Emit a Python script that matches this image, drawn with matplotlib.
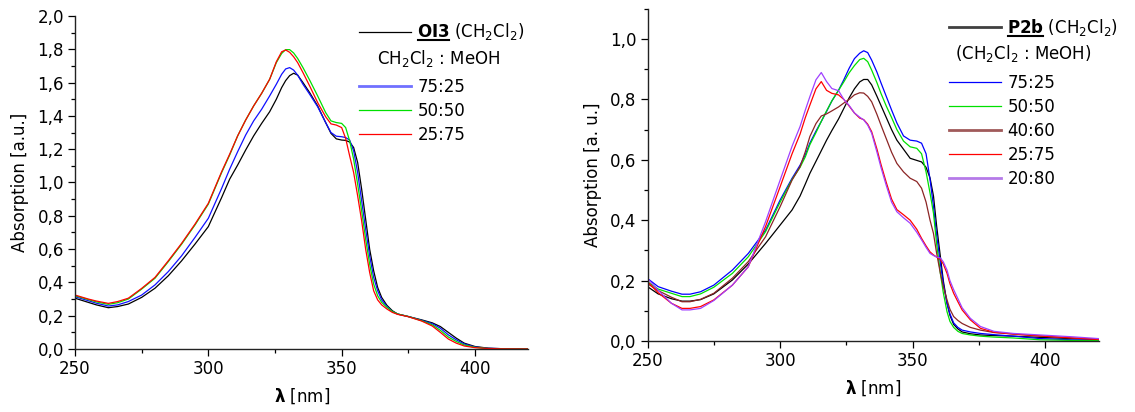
import matplotlib
matplotlib.use("Agg")
import matplotlib.pyplot as plt
from matplotlib.ticker import MultipleLocator, FuncFormatter
from matplotlib.lines import Line2D
from matplotlib.transforms import IdentityTransform

plt.rcParams['font.family'] = ['DejaVu Sans']
plt.rcParams['mathtext.fontset'] = 'dejavusans'

# ---------------- Left panel: OI3 ----------------
wl_oi3 = [250, 255, 258, 262.5, 266, 270, 275, 280, 285, 290, 295, 300, 305, 308, 311, 314, 317, 320,
          323, 325.5, 327.5, 329, 330.5, 332, 333.5, 335.5, 338, 341, 344, 346, 348, 350, 351.5, 353,
          354.5, 356, 357.5, 359, 360.5, 362, 363.5, 365, 367, 369, 371, 375, 380, 384, 387, 390,
          393, 396, 400, 405, 410, 420]
oi3_dcm = [0.305, 0.28, 0.265, 0.248, 0.255, 0.27, 0.31, 0.365, 0.44, 0.53, 0.63, 0.735, 0.91, 1.02, 1.105,
           1.195, 1.28, 1.355, 1.425, 1.50, 1.57, 1.612, 1.642, 1.656, 1.645, 1.60, 1.54, 1.46, 1.36,
           1.295, 1.262, 1.255, 1.253, 1.243, 1.21, 1.12, 0.96, 0.78, 0.60, 0.47, 0.37, 0.31, 0.262,
           0.23, 0.21, 0.195, 0.175, 0.157, 0.135, 0.10, 0.065, 0.035, 0.015, 0.005, 0.002, 0.0]
oi3_75 = [0.314, 0.29, 0.275, 0.258, 0.265, 0.285, 0.324, 0.385, 0.465, 0.56, 0.67, 0.785, 0.965, 1.08,
          1.185, 1.285, 1.37, 1.44, 1.52, 1.59, 1.65, 1.682, 1.69, 1.675, 1.645, 1.59, 1.53, 1.455,
          1.36, 1.30, 1.278, 1.275, 1.27, 1.255, 1.19, 1.06, 0.89, 0.72, 0.56, 0.43, 0.35, 0.295, 0.255,
          0.225, 0.21, 0.195, 0.172, 0.152, 0.125, 0.085, 0.055, 0.03, 0.012, 0.004, 0.002, 0.0]
oi3_50 = [0.32, 0.297, 0.283, 0.268, 0.278, 0.30, 0.36, 0.425, 0.525, 0.63, 0.745, 0.87, 1.06, 1.165,
          1.28, 1.375, 1.46, 1.535, 1.62, 1.72, 1.775, 1.798, 1.798, 1.778, 1.745, 1.69, 1.615, 1.52,
          1.42, 1.37, 1.36, 1.355, 1.33, 1.25, 1.14, 0.99, 0.83, 0.66, 0.51, 0.39, 0.32, 0.28, 0.25,
          0.225, 0.21, 0.195, 0.17, 0.145, 0.112, 0.072, 0.045, 0.024, 0.01, 0.003, 0.001, 0.0]
oi3_25 = [0.324, 0.30, 0.288, 0.274, 0.285, 0.305, 0.364, 0.43, 0.53, 0.635, 0.75, 0.875, 1.065, 1.17,
          1.28, 1.375, 1.46, 1.536, 1.62, 1.725, 1.785, 1.796, 1.782, 1.755, 1.72, 1.66, 1.58, 1.48,
          1.395, 1.352, 1.345, 1.33, 1.265, 1.16, 1.06, 0.92, 0.77, 0.60, 0.46, 0.35, 0.295, 0.265,
          0.24, 0.22, 0.208, 0.194, 0.168, 0.138, 0.10, 0.06, 0.035, 0.018, 0.008, 0.003, 0.001, 0.0]

# ---------------- Right panel: P2b ----------------
wl_p2b = [250, 254, 259, 263, 266, 270, 275, 282, 288, 294.5, 300, 304.5, 307.5, 309.5, 311.2, 313.5,
          315.5, 317.5, 319.5, 322, 324, 326, 328, 330, 331.5, 333, 334.5, 336.5, 338, 340, 342, 344,
          346.5, 349, 351.5, 353.3, 355, 356.5, 357.8, 359, 360.4, 361.5, 362.9, 364, 365.4, 367,
          368.6, 371.7, 375.5, 380.6, 388, 398, 410, 420]
p2b_dcm = [0.18, 0.156, 0.14, 0.132, 0.132, 0.137, 0.156, 0.202, 0.255, 0.323, 0.384, 0.434, 0.48, 0.52,
           0.555, 0.595, 0.63, 0.665, 0.697, 0.735, 0.77, 0.805, 0.835, 0.858, 0.866, 0.866, 0.848, 0.81,
           0.78, 0.74, 0.70, 0.665, 0.635, 0.605, 0.598, 0.593, 0.575, 0.54, 0.48, 0.38, 0.279, 0.20,
           0.125, 0.085, 0.055, 0.04, 0.03, 0.024, 0.02, 0.018, 0.016, 0.012, 0.008, 0.005]
p2b_75 = [0.207, 0.18, 0.165, 0.155, 0.155, 0.163, 0.185, 0.235, 0.29, 0.367, 0.467, 0.539, 0.582, 0.617,
          0.655, 0.695, 0.727, 0.76, 0.795, 0.83, 0.865, 0.903, 0.935, 0.953, 0.961, 0.955, 0.93, 0.89,
          0.855, 0.81, 0.765, 0.722, 0.679, 0.665, 0.662, 0.655, 0.62, 0.535, 0.445, 0.35, 0.257, 0.19,
          0.125, 0.09, 0.06, 0.045, 0.036, 0.03, 0.025, 0.021, 0.016, 0.008, 0.004, 0.003]
p2b_50 = [0.196, 0.172, 0.158, 0.147, 0.147, 0.156, 0.178, 0.224, 0.279, 0.362, 0.46, 0.535, 0.575, 0.61,
          0.65, 0.69, 0.727, 0.762, 0.795, 0.83, 0.858, 0.888, 0.912, 0.932, 0.936, 0.925, 0.897, 0.855,
          0.82, 0.778, 0.74, 0.70, 0.662, 0.643, 0.638, 0.62, 0.56, 0.49, 0.423, 0.32, 0.224, 0.16,
          0.097, 0.065, 0.045, 0.032, 0.025, 0.02, 0.016, 0.013, 0.01, 0.004, 0.002, 0.001]
p2b_40 = [0.19, 0.167, 0.145, 0.13, 0.13, 0.138, 0.158, 0.208, 0.263, 0.345, 0.445, 0.533, 0.577, 0.627,
          0.677, 0.72, 0.745, 0.752, 0.762, 0.775, 0.788, 0.80, 0.815, 0.822, 0.821, 0.81, 0.792, 0.75,
          0.715, 0.67, 0.625, 0.588, 0.56, 0.539, 0.528, 0.506, 0.46, 0.40, 0.356, 0.29, 0.224, 0.18,
          0.136, 0.105, 0.081, 0.068, 0.058, 0.045, 0.036, 0.028, 0.023, 0.016, 0.01, 0.006]
p2b_25 = [0.196, 0.16, 0.125, 0.108, 0.108, 0.114, 0.136, 0.185, 0.246, 0.379, 0.511, 0.62, 0.685, 0.74,
          0.781, 0.835, 0.859, 0.83, 0.82, 0.815, 0.80, 0.778, 0.755, 0.738, 0.733, 0.718, 0.693, 0.635,
          0.585, 0.525, 0.47, 0.435, 0.418, 0.40, 0.37, 0.34, 0.315, 0.295, 0.285, 0.278, 0.27, 0.255,
          0.224, 0.19, 0.158, 0.13, 0.103, 0.07, 0.042, 0.029, 0.023, 0.017, 0.01, 0.005]
p2b_20 = [0.207, 0.168, 0.125, 0.103, 0.103, 0.108, 0.134, 0.185, 0.246, 0.395, 0.533, 0.645, 0.71, 0.765,
          0.809, 0.865, 0.889, 0.859, 0.836, 0.829, 0.80, 0.78, 0.755, 0.741, 0.732, 0.715, 0.688, 0.625,
          0.575, 0.515, 0.46, 0.428, 0.408, 0.39, 0.36, 0.335, 0.31, 0.29, 0.283, 0.278, 0.275, 0.262,
          0.235, 0.20, 0.17, 0.14, 0.11, 0.075, 0.048, 0.032, 0.025, 0.02, 0.014, 0.008]

xticks_major = [250, 300, 350, 400]

FS = 12
W, H = 1135, 412
fig = plt.figure(figsize=(W / 100, H / 100), dpi=100)
axL = fig.add_axes([75 / W, 63 / H, 453.3 / W, 333 / H])
axR = fig.add_axes([647.5 / W, 71 / H, 451 / W, 332.2 / H])

comma = FuncFormatter(lambda v, p: f"{v:.1f}".replace('.', ','))

def style(ax, ymax):
    for s in ('top', 'right'):
        ax.spines[s].set_visible(False)
    for s in ('left', 'bottom'):
        ax.spines[s].set_linewidth(1.0)
        ax.spines[s].set_color('#222222')
    ax.set_xlim(250, 420)
    ax.set_ylim(0, ymax)
    ax.set_xticks(xticks_major)
    ax.xaxis.set_minor_locator(MultipleLocator(25))
    ax.yaxis.set_major_locator(MultipleLocator(0.2))
    ax.yaxis.set_minor_locator(MultipleLocator(0.1))
    ax.yaxis.set_major_formatter(comma)
    ax.tick_params(which='major', direction='out', length=5, width=0.9, labelsize=FS, pad=3)
    ax.tick_params(which='minor', direction='out', length=3, width=0.9)
    ax.set_xlabel(r"$\mathbf{\lambda}$ [nm]", fontsize=FS, labelpad=6)

lw = 0.9
# left
l0, = axL.plot(wl_oi3, oi3_dcm, color='#000000', lw=lw)
l1, = axL.plot(wl_oi3, oi3_75, color='#1010ff', lw=lw)
l2, = axL.plot(wl_oi3, oi3_50, color='#00e000', lw=lw)
l3, = axL.plot(wl_oi3, oi3_25, color='#ff0000', lw=lw)
style(axL, 2.0)
axL.set_ylabel("Absorption [a.u.]", fontsize=FS, labelpad=6)

# right
r0, = axR.plot(wl_p2b, p2b_dcm, color='#000000', lw=lw)
r1, = axR.plot(wl_p2b, p2b_75, color='#0000ff', lw=lw)
r2, = axR.plot(wl_p2b, p2b_50, color='#00e000', lw=lw)
r3, = axR.plot(wl_p2b, p2b_40, color='#8b2525', lw=lw)
r4, = axR.plot(wl_p2b, p2b_25, color='#ff0000', lw=lw)
r5, = axR.plot(wl_p2b, p2b_20, color='#a040ff', lw=lw)
style(axR, 1.1)
axR.set_ylabel("Absorption [a. u.]", fontsize=FS, labelpad=6)

legkw = dict(frameon=False, fontsize=FS, handlelength=3.12, handletextpad=0.36,
             borderpad=0, borderaxespad=0, labelspacing=0.35)

def fx(ax, px):
    x0, x1 = ax.get_position().x0 * W, ax.get_position().x1 * W
    return (px - x0) / (x1 - x0)

def fy(ax, py):
    y0 = H - ax.get_position().y0 * H
    y1 = H - ax.get_position().y1 * H
    return (y0 - py) / (y0 - y1)

# left legend
legA = axL.legend([l0], [r"$\mathbf{OI3}$ (CH$_2$Cl$_2$)"], loc='center left',
                  bbox_to_anchor=(fx(axL, 359.3), fy(axL, 32.0)), **legkw)
axL.add_artist(legA)
axL.text(fx(axL, 376.7), fy(axL, 64.3), r"CH$_2$Cl$_2$ : MeOH", transform=axL.transAxes,
         fontsize=FS, va='baseline', ha='left')
legB = axL.legend([l1, l2, l3], ["75:25", "50:50", "25:75"], loc='center left',
                  bbox_to_anchor=(fx(axL, 359.3), fy(axL, 111)), **legkw)
legB.get_lines()[0].set_linewidth(2.0)
legB.get_lines()[0].set_color('#7070ff')

# right legend
legC = axR.legend([r0], [r"$\mathbf{P2b}$ (CH$_2$Cl$_2$)"], loc='center left',
                  bbox_to_anchor=(fx(axR, 949.3), fy(axR, 27.5)), **legkw)
legC.get_lines()[0].set_linewidth(2.0)
legC.get_lines()[0].set_color('#404040')
axR.add_artist(legC)
axR.text(fx(axR, 955), fy(axR, 59.3), r"(CH$_2$Cl$_2$ : MeOH)", transform=axR.transAxes,
         fontsize=FS, va='baseline', ha='left')
legD = axR.legend([r1, r2, r3, r4, r5], ["75:25", "50:50", "40:60", "25:75", "20:80"],
                  loc='center left', bbox_to_anchor=(fx(axR, 949.3), fy(axR, 131)), **legkw)
for i in (2, 4):
    legD.get_lines()[i].set_linewidth(2.0)
legD.get_lines()[2].set_color('#a05a5a')
legD.get_lines()[4].set_color('#b57ae8')

fig.canvas.draw()
renderer = fig.canvas.get_renderer()

def underline(t, word):
    bb = t.get_window_extent(renderer)
    prop = t.get_fontproperties()
    w, h, d = renderer.get_text_width_height_descent(t.get_text(), prop, ismath=True)
    baseline = bb.y0 + d
    bprop = prop.copy()
    bprop.set_weight('bold')
    ww, hh, dd = renderer.get_text_width_height_descent(word, bprop, ismath=False)
    y = baseline - 2.5
    fig.add_artist(Line2D([bb.x0 + 0.5, bb.x0 + ww], [y, y], transform=IdentityTransform(),
                          color='black', lw=1.5))

underline(legA.get_texts()[0], "OI3")
underline(legC.get_texts()[0], "P2b")

fig.savefig("out.png", dpi=100)
